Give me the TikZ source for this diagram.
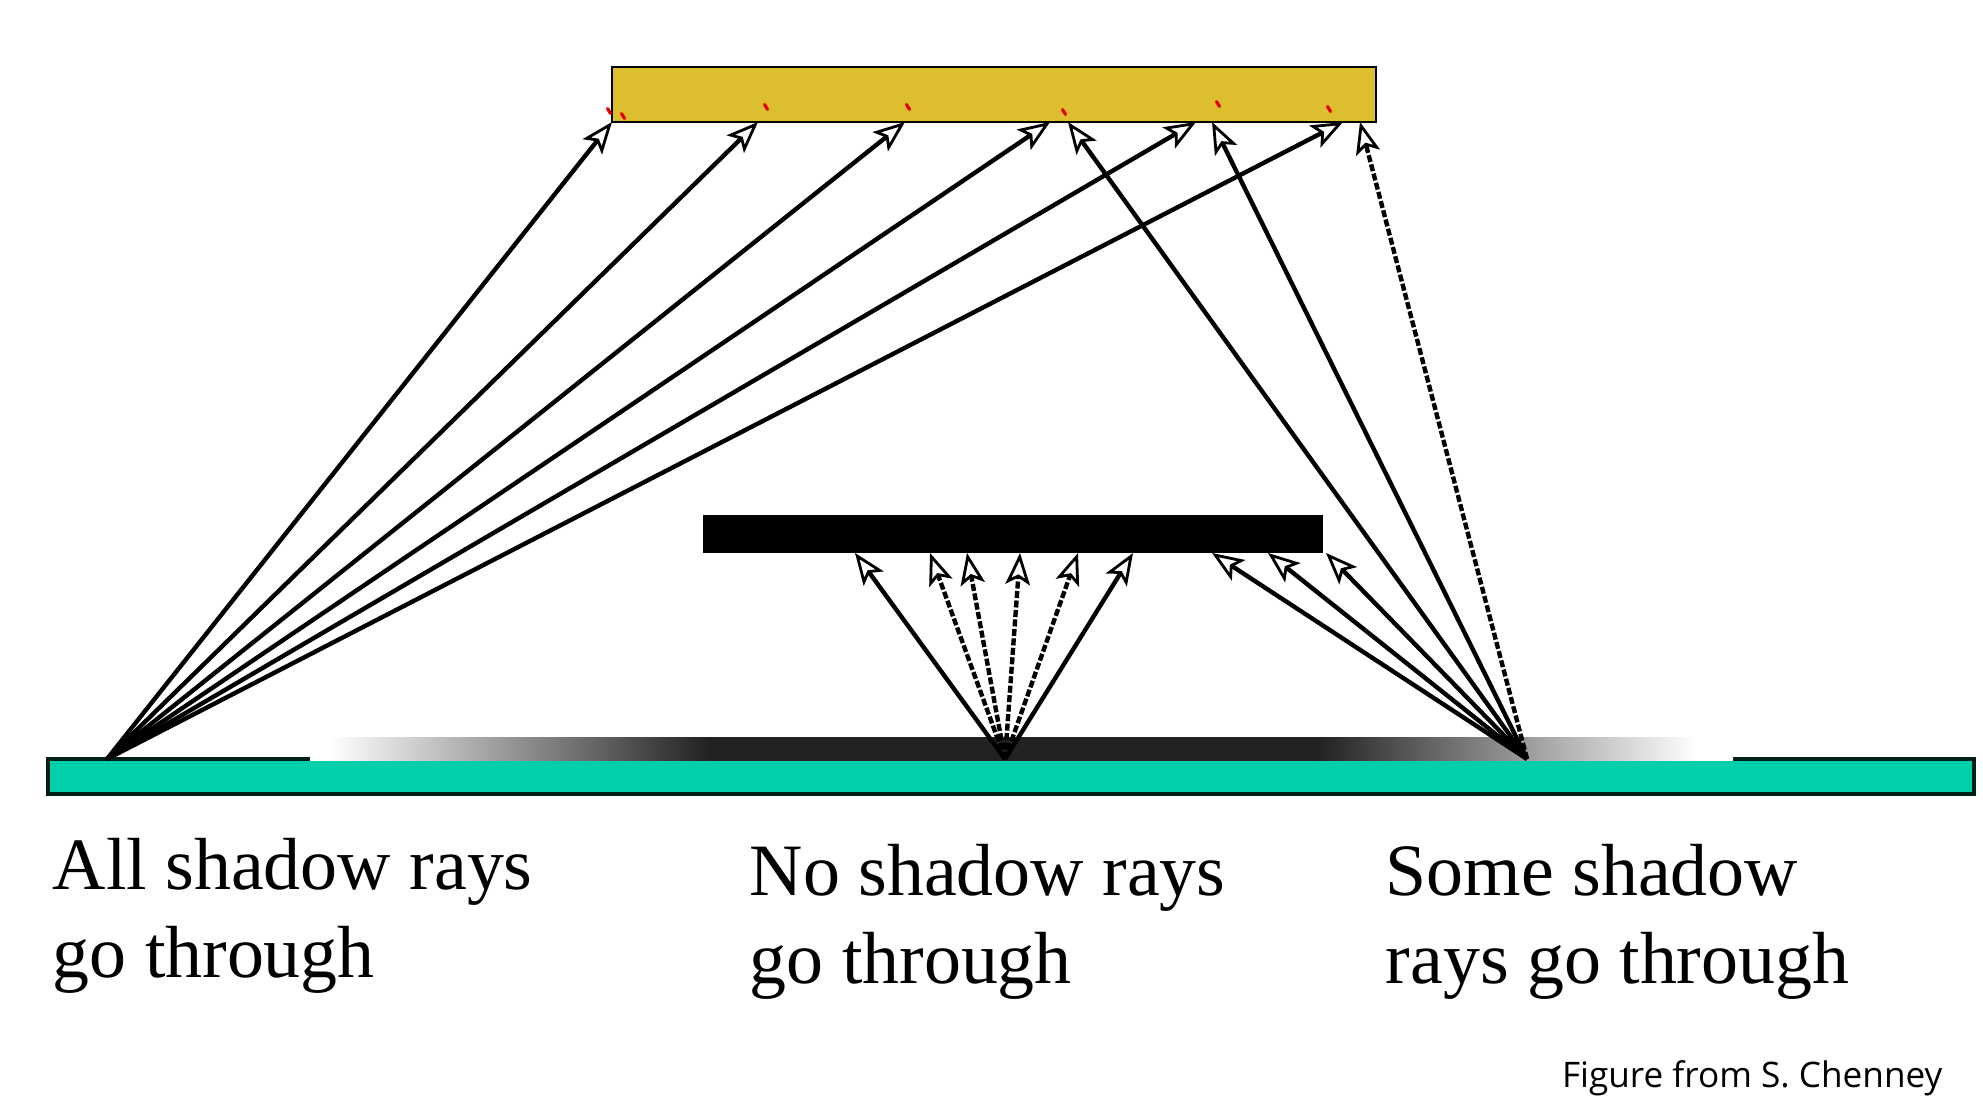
\documentclass[tikz,border=0pt]{standalone}
\usepackage{fontspec}
\setmainfont{Liberation Serif}
\newfontfamily\creditfont{Open Sans}
\usetikzlibrary{arrows.meta}
\definecolor{lampyellow}{RGB}{221,190,46}
\definecolor{floorteal}{RGB}{0,207,170}
\definecolor{umbra}{RGB}{34,34,34}
\pgfdeclarehorizontalshading{penumbra}{100bp}{color(0bp)=(white); color(25.7bp)=(white);
  color(39bp)=(umbra); color(60.4bp)=(umbra); color(73.7bp)=(white); color(100bp)=(white)}
\tikzset{>={Stealth[fill=white,line width=0.8pt,length=9pt,width=7pt,inset=2pt]},
         sray/.style={->,line width=1.25pt},
         dray/.style={sray,dash pattern=on 2pt off 0.7pt},
         lbl/.style={anchor=base west,align=left,inner sep=0pt,
                     font=\fontsize{21}{24.8}\selectfont},
         speck/.style={red!90!black,line width=0.9pt,line cap=round}}

\begin{document}
\begin{tikzpicture}[x=0.01cm,y=-0.01cm]
	  \useasboundingbox (0,0) rectangle (1983,1113);
	  \fill[white] (0,0) rectangle (1983,1113);
	  \draw[fill=lampyellow,line width=0.8pt] (612,67) rectangle (1376,122);
	  \fill[black] (703,515) rectangle (1323,553);
	  \draw[fill=floorteal,draw=black!85!floorteal,line width=1pt] (48,759) rectangle (1974,794);
	  \shade[shading=penumbra] (310,737) rectangle (1733,760.5);
	  \foreach \x/\y in {609/111,623/116,766/107,908/107,1064/112,1218/104,1329/109}
	    \draw[speck] (\x-1.5,\y-2.5) -- (\x+1.5,\y+2.5);
	  \coordinate (pL) at (107,759);
	  \coordinate (pM) at (1005,759);
	  \coordinate (pR) at (1527,759);
	  \foreach \x [count=\i] in {612,758,905,1050,1196,1343} \coordinate (l\i) at (\x,122);
	  \foreach \x [count=\i] in {1068,1212,1360} \coordinate (r\i) at (\x,122);
	  \foreach \x [count=\i] in {855,930,967,1020,1078,1133} \coordinate (b\i) at (\x,553);
	  \foreach \x [count=\i] in {1212,1268,1326} \coordinate (s\i) at (\x,553);
	  \foreach \i in {1,...,6} \draw[sray] (pL) -- (l\i);
	  \draw[sray] (pR) -- (r1);
	  \draw[sray] (pR) -- (r2);
	  \draw[dray] (pR) -- (r3);
	  \foreach \i in {1,...,3} \draw[sray] (pR) -- (s\i);
	  \draw[sray] (pM) -- (b1);
	  \foreach \i in {2,...,5} \draw[dray] (pM) -- (b\i);
	  \draw[sray] (pM) -- (b6);
	  \node[lbl] (lblall) at (52,977) {All shadow rays\\go through};
	  \node[lbl] (lblnone) at (749,983) {No shadow rays\\go through};
	  \node[lbl] (lblsome) at (1385,983) {Some shadow\\rays go through};
	  \node[anchor=base east,inner sep=0pt,font=\creditfont\fontsize{10}{12}\selectfont]
	    (credit) at (1943,1087) {Figure from S. Chenney};
	\end{tikzpicture}
\end{document}
